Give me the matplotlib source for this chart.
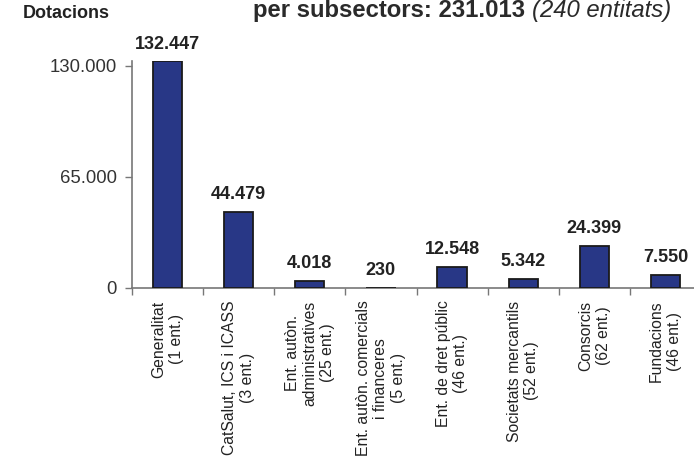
import matplotlib
matplotlib.use("Agg")
import matplotlib.pyplot as plt
import numpy as np

categories = [
    "Generalitat\n(1 ent.)",
    "CatSalut, ICS i ICASS\n(3 ent.)",
    "Ent. autòn.\nadministratives\n(25 ent.)",
    "Ent. autòn. comercials\ni financeres\n(5 ent.)",
    "Ent. de dret públic\n(46 ent.)",
    "Societats mercantils\n(52 ent.)",
    "Consorcis\n(62 ent.)",
    "Fundacions\n(46 ent.)",
]
values = [132447, 44479, 4018, 230, 12548, 5342, 24399, 7550]
value_labels = ["132.447", "44.479", "4.018", "230", "12.548", "5.342", "24.399", "7.550"]
yticks = [0, 65000, 130000]
ytick_labels = ["0", "65.000", "130.000"]

plt.rcParams['font.family'] = ['Liberation Sans', 'DejaVu Sans']

W, H = 694, 461
fig = plt.figure(figsize=(W / 100, H / 100), dpi=100)
ax_left, ax_right = 132 / W, 701 / W
ax_bottom, ax_top = (H - 288) / H, (H - 61) / H
ax = fig.add_axes([ax_left, ax_bottom, ax_right - ax_left, ax_top - ax_bottom])

x = np.arange(len(values))
ax.bar(x, values, width=0.41, color="#283786", edgecolor="#1a1a1a", linewidth=1.3, zorder=3)

ax.set_xlim(-0.5, len(values) - 0.5)
ax.set_ylim(0, 132700)

for spine in ["top", "right"]:
    ax.spines[spine].set_visible(False)
for spine in ["left", "bottom"]:
    ax.spines[spine].set_color("#777777")
    ax.spines[spine].set_linewidth(1.2)

ax.set_yticks(yticks)
ax.set_yticklabels(ytick_labels, fontsize=13.3, color="#333333")
ax.tick_params(axis="y", direction="out", length=5, width=1, color="#777777", pad=6)

ax.set_xticks(np.arange(-0.5, len(values), 1.0))
ax.set_xticklabels([])
ax.tick_params(axis="x", direction="out", length=5, width=1, color="#777777")

for xi, lab in zip(x, categories):
    ax.annotate(lab, xy=(xi, 0), xycoords=("data", "axes fraction"),
                xytext=(0, -9), textcoords="offset points",
                rotation=90, ha="center", va="top", multialignment="center",
                fontsize=11.3, color="#222222", annotation_clip=False)

for xi, v, lab in zip(x, values, value_labels):
    ax.annotate(lab, xy=(xi, v), xytext=(0, 12.5), textcoords="offset points",
                ha="center", va="center", fontsize=13, fontweight="bold",
                color="#222222", annotation_clip=False)

fig.text(23 / W, 1 - 14 / H, "Dotacions", fontsize=13, fontweight="bold",
         color="#222222", ha="left", va="center")

t1 = fig.text(253 / W, 1 - 17 / H, "per subsectors: 231.013 ", fontsize=17.2,
              fontweight="bold", color="#2a2a2a", ha="left", va="baseline")
fig.canvas.draw()
bb = t1.get_window_extent()
fig.text(bb.x1 / W, 1 - 17 / H, "(240 entitats)", fontsize=17.2,
         fontstyle="italic", color="#2a2a2a", ha="left", va="baseline")

fig.savefig("out.png", dpi=100)
